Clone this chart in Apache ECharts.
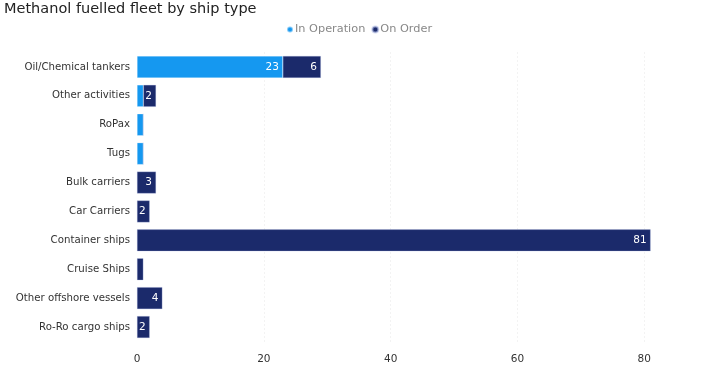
<!DOCTYPE html>
<html><head><meta charset="utf-8">
<script src="https://cdn.jsdelivr.net/npm/echarts@6/dist/echarts.min.js"></script>
<style>html,body{margin:0;padding:0;background:#fff}#c{width:707px;height:369px}</style>
</head><body><div id="c"></div>
<script>
const categories = ["Oil/Chemical tankers","Other activities","RoPax","Tugs","Bulk carriers","Car Carriers","Container ships","Cruise Ships","Other offshore vessels","Ro-Ro cargo ships"];
const inOperation = [23, 1, 1, 1, 0, 0, 0, 0, 0, 0];
const onOrder = [6, 2, 0, 0, 3, 2, 81, 1, 4, 2];
const xTicks = [0, 20, 40, 60, 80];

const font = "'DejaVu Sans', Verdana, sans-serif";
const chart = echarts.init(document.getElementById('c'));
const lbl = {
  show: true, position: 'insideRight', color: '#fff', fontSize: 10.5, fontFamily: font, distance: 4,
  formatter: p => (p.value >= 2 ? p.value : '')
};
chart.setOption({
  animation: false,
  title: { text: 'Methanol fuelled fleet by ship type', left: 4, top: 2, padding: 0,
    textStyle: { fontSize: 14.5, fontWeight: 'normal', color: '#222', fontFamily: font } },
  legend: { data: ['In Operation', 'On Order'], top: 24, left: 286, padding: 0, icon: 'circle',
    itemWidth: 6, itemHeight: 6, itemGap: 6,
    textStyle: { fontSize: 11.3, color: '#888', fontFamily: font, padding: [0, 0, 0, -3] } },
  grid: { left: 137, right: 12, top: 52.5, bottom: 27.5, containLabel: false },
  xAxis: { type: 'value', min: 0, max: 88, interval: 20,
    axisLine: { show: false }, axisTick: { show: false },
    axisLabel: { color: '#333', fontSize: 10.5, fontFamily: font, showMaxLabel: false, margin: 12,
      formatter: v => (xTicks.includes(v) ? String(v) : '') },
    splitLine: { show: true, showMinLine: false, showMaxLine: false, lineStyle: { color: '#e6e6e6', type: [1, 3] } } },
  yAxis: { type: 'category', data: categories, inverse: true,
    axisLine: { show: false }, axisTick: { show: false },
    axisLabel: { color: '#333', fontSize: 10.2, fontFamily: font, margin: 7 } },
  series: [
    { name: 'In Operation', type: 'bar', stack: 'a', data: inOperation, barCategoryGap: '24%',
      itemStyle: { color: '#1598f0', borderColor: 'rgba(255,255,255,0.5)', borderWidth: 0.5 }, label: lbl },
    { name: 'On Order', type: 'bar', stack: 'a', data: onOrder, barCategoryGap: '24%',
      itemStyle: { color: '#1b2a6b', borderColor: 'rgba(180,190,230,0.6)', borderWidth: 0.5 }, label: lbl }
  ]
});
</script></body></html>
